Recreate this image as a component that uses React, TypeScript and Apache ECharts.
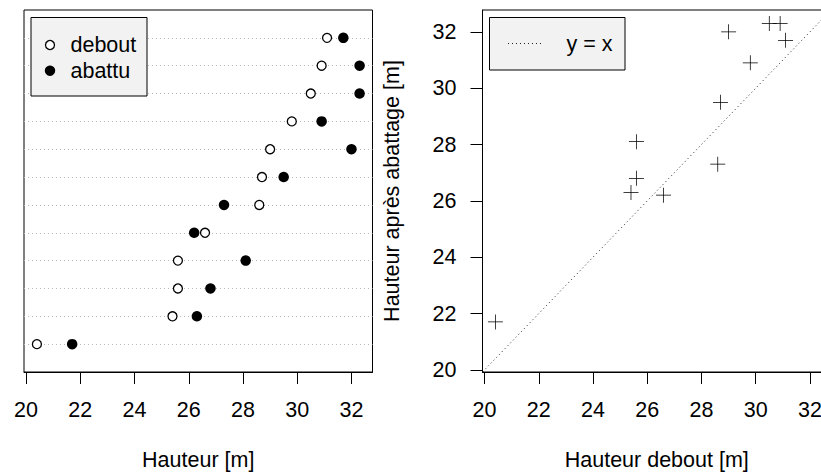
import React, { useEffect, useRef } from "react";
import * as echarts from "echarts";

// Tree heights [m], dotchart rows listed from bottom (row 1) to top (row 12)
const debout: number[] = [20.4, 25.4, 25.6, 25.6, 26.6, 28.6, 28.7, 29.0, 29.8, 30.5, 30.9, 31.1];
const abattu: number[] = [21.7, 26.3, 26.8, 28.1, 26.2, 27.3, 29.5, 32.0, 30.9, 32.3, 32.3, 31.7];
const tickValues: number[] = [20, 22, 24, 26, 28, 30, 32];
const legendLeft: string[] = ["debout", "abattu"];
const legendRight: string[] = ["y = x"];
const titles = {
  left: "Hauteur [m]",
  rightX: "Hauteur debout [m]",
  rightY: "Hauteur après abattage [m]",
};

const FONT = "Liberation Sans, Arial, Helvetica, sans-serif";
const FS = 21.5;

export default function App() {
  const ref = useRef<HTMLDivElement>(null);

  useEffect(() => {
    document.body.style.margin = "0";
    if (!ref.current) return;
    const chart = echarts.init(ref.current, undefined, { renderer: "svg" });

    const all = debout.concat(abattu);
    const lo0 = Math.min(...all);
    const hi0 = Math.max(...all);
    const pad = 0.04 * (hi0 - lo0);
    const lo = lo0 - pad;
    const hi = hi0 + pad;
    const nRows = debout.length;

    const rowIdx = debout.map((_, i) => i + 1);

    const xAxisCommon = (gridIndex: number, name: string) => ({
      type: "value" as const,
      gridIndex,
      min: lo,
      max: hi,
      name,
      nameLocation: "middle" as const,
      nameGap: 77,
      nameTextStyle: { fontFamily: FONT, fontSize: FS, color: "#000" },
      axisLine: { show: true, lineStyle: { color: "#000", width: 1 } },
      axisTick: {
        show: true,
        length: 12,
        customValues: tickValues,
        lineStyle: { color: "#000", width: 1 },
      },
      axisLabel: {
        show: true,
        customValues: tickValues,
        margin: 27,
        fontFamily: FONT,
        fontSize: FS,
        color: "#000",
        hideOverlap: false,
      },
      splitLine: { show: false },
    });

    const gridCommon = {
      top: 10,
      width: 348.5,
      height: 362,
      show: true,
      borderColor: "#000",
      borderWidth: 1,
      backgroundColor: "transparent",
      containLabel: false,
      outerBoundsMode: "none",
    };

    const option: any = {
      animation: false,
      backgroundColor: "#fff",
      grid: [
        { ...gridCommon, left: 24 },
        { ...gridCommon, left: 482.5 },
      ],
      xAxis: [xAxisCommon(0, titles.left), xAxisCommon(1, titles.rightX)],
      yAxis: [
        {
          type: "value",
          gridIndex: 0,
          min: 0,
          max: nRows + 1,
          show: false,
          splitLine: { show: false },
        },
        {
          type: "value",
          gridIndex: 1,
          min: lo,
          max: hi,
          name: titles.rightY,
          nameLocation: "middle",
          nameGap: 80,
          nameTextStyle: { fontFamily: FONT, fontSize: FS, color: "#000" },
          axisLine: { show: true, lineStyle: { color: "#000", width: 1 } },
          axisTick: {
            show: true,
            length: 12,
            customValues: tickValues,
            lineStyle: { color: "#000", width: 1 },
          },
          axisLabel: {
            show: true,
            customValues: tickValues,
            margin: 26,
            fontFamily: FONT,
            fontSize: FS,
            color: "#000",
          },
          splitLine: { show: false },
        },
      ],
      series: [
        {
          name: legendLeft[0],
          type: "scatter",
          xAxisIndex: 0,
          yAxisIndex: 0,
          z: 3,
          symbol: "circle",
          symbolSize: 9,
          itemStyle: { color: "#fff", borderColor: "#000", borderWidth: 1.3, opacity: 1 },
          data: debout.map((v, i) => [v, rowIdx[i]]),
          markLine: {
            silent: true,
            z: 1,
            symbol: ["none", "none"],
            label: { show: false },
            lineStyle: { type: [1, 3], color: "#b8b8b8", width: 1 },
            data: rowIdx.map((r) => ({ yAxis: r })),
          },
        },
        {
          name: legendLeft[1],
          type: "scatter",
          xAxisIndex: 0,
          yAxisIndex: 0,
          z: 3,
          symbol: "circle",
          symbolSize: 10.5,
          itemStyle: { color: "#000", opacity: 1 },
          data: abattu.map((v, i) => [v, rowIdx[i]]),
        },
        {
          name: legendRight[0],
          type: "line",
          xAxisIndex: 1,
          yAxisIndex: 1,
          z: 2,
          symbol: "none",
          clip: true,
          lineStyle: { type: [1, 3], color: "#222", width: 1 },
          data: [
            [lo, lo],
            [hi, hi],
          ],
        },
        {
          name: "points",
          type: "scatter",
          xAxisIndex: 1,
          yAxisIndex: 1,
          z: 3,
          symbol:
            "path://M-0.05,-1 L0.05,-1 L0.05,-0.05 L1,-0.05 L1,0.05 L0.05,0.05 L0.05,1 L-0.05,1 L-0.05,0.05 L-1,0.05 L-1,-0.05 L-0.05,-0.05 Z",
          symbolSize: 15,
          itemStyle: { color: "#000", opacity: 1 },
          data: debout.map((v, i) => [v, abattu[i]]),
        },
      ],
      graphic: [
        {
          type: "rect",
          shape: { x: 31, y: 17.5, width: 116, height: 78.5 },
          style: { fill: "#f2f2f2", stroke: "#000", lineWidth: 1 },
          z: 10,
        },
        {
          type: "circle",
          shape: { cx: 50, cy: 45, r: 4.5 },
          style: { fill: "#fff", stroke: "#000", lineWidth: 1.3 },
          z: 11,
        },
        {
          type: "circle",
          shape: { cx: 50, cy: 70.7, r: 5.2 },
          style: { fill: "#000" },
          z: 11,
        },
        {
          type: "text",
          x: 70.5,
          y: 45,
          style: {
            text: legendLeft[0],
            fontFamily: FONT,
            fontSize: FS,
            fill: "#000",
            verticalAlign: "middle",
            align: "left",
          },
          z: 11,
        },
        {
          type: "text",
          x: 70.5,
          y: 70.7,
          style: {
            text: legendLeft[1],
            fontFamily: FONT,
            fontSize: FS,
            fill: "#000",
            verticalAlign: "middle",
            align: "left",
          },
          z: 11,
        },
        {
          type: "rect",
          shape: { x: 489.5, y: 17.5, width: 135.5, height: 52.5 },
          style: { fill: "#f2f2f2", stroke: "#000", lineWidth: 1 },
          z: 10,
        },
        {
          type: "line",
          shape: { x1: 508, y1: 43.5, x2: 544, y2: 43.5 },
          style: { stroke: "#222", lineWidth: 1, lineDash: [1, 3] },
          z: 11,
        },
        {
          type: "text",
          x: 566.5,
          y: 43.5,
          style: {
            text: legendRight[0],
            fontFamily: FONT,
            fontSize: FS,
            fill: "#000",
            verticalAlign: "middle",
            align: "left",
          },
          z: 11,
        },
      ],
    };

    chart.setOption(option);
    return () => {
      chart.dispose();
    };
  }, []);

  return (
    <div
      ref={ref}
      style={{ position: "absolute", left: 0, top: 0, width: 821, height: 475, background: "#fff" }}
    />
  );
}
